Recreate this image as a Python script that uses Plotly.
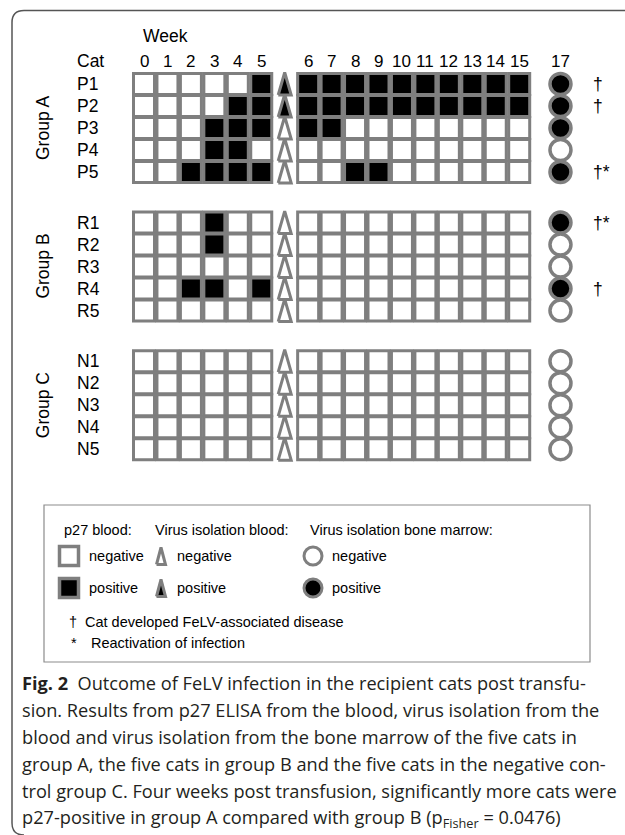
import plotly.graph_objects as go

# ---------------- data ----------------
week_labels = ["0", "1", "2", "3", "4", "5", "6", "7", "8", "9", "10", "11", "12", "13", "14", "15"]
p27_weeks = [0, 1, 2, 3, 4, 5, 6, 7, 8, 9, 10, 11, 12, 13, 14, 15]
marrow_week_label = "17"

group_names = ["Group A", "Group B", "Group C"]
cats_a = ["P1", "P2", "P3", "P4", "P5"]
cats_b = ["R1", "R2", "R3", "R4", "R5"]
cats_c = ["N1", "N2", "N3", "N4", "N5"]

# p27 ELISA in blood (1 = positive), weeks 0..15
p27_a = [
    [0, 0, 0, 0, 0, 1, 1, 1, 1, 1, 1, 1, 1, 1, 1, 1],
    [0, 0, 0, 0, 1, 1, 1, 1, 1, 1, 1, 1, 1, 1, 1, 1],
    [0, 0, 0, 1, 1, 1, 1, 1, 0, 0, 0, 0, 0, 0, 0, 0],
    [0, 0, 0, 1, 1, 0, 0, 0, 0, 0, 0, 0, 0, 0, 0, 0],
    [0, 0, 1, 1, 1, 1, 0, 0, 1, 1, 0, 0, 0, 0, 0, 0],
]
p27_b = [
    [0, 0, 0, 1, 0, 0, 0, 0, 0, 0, 0, 0, 0, 0, 0, 0],
    [0, 0, 0, 1, 0, 0, 0, 0, 0, 0, 0, 0, 0, 0, 0, 0],
    [0, 0, 0, 0, 0, 0, 0, 0, 0, 0, 0, 0, 0, 0, 0, 0],
    [0, 0, 1, 1, 0, 1, 0, 0, 0, 0, 0, 0, 0, 0, 0, 0],
    [0, 0, 0, 0, 0, 0, 0, 0, 0, 0, 0, 0, 0, 0, 0, 0],
]
p27_c = [
    [0, 0, 0, 0, 0, 0, 0, 0, 0, 0, 0, 0, 0, 0, 0, 0],
    [0, 0, 0, 0, 0, 0, 0, 0, 0, 0, 0, 0, 0, 0, 0, 0],
    [0, 0, 0, 0, 0, 0, 0, 0, 0, 0, 0, 0, 0, 0, 0, 0],
    [0, 0, 0, 0, 0, 0, 0, 0, 0, 0, 0, 0, 0, 0, 0, 0],
    [0, 0, 0, 0, 0, 0, 0, 0, 0, 0, 0, 0, 0, 0, 0, 0],
]
# virus isolation blood (1 = positive)
vi_blood_a = [1, 1, 0, 0, 0]
vi_blood_b = [0, 0, 0, 0, 0]
vi_blood_c = [0, 0, 0, 0, 0]
# virus isolation bone marrow, week 17 (1 = positive)
vi_marrow_a = [1, 1, 1, 0, 1]
vi_marrow_b = [1, 0, 0, 1, 0]
vi_marrow_c = [0, 0, 0, 0, 0]
# disease / reactivation notes
notes_a = ["†", "†", "", "", "†*"]
notes_b = ["†*", "", "", "†", ""]
notes_c = ["", "", "", "", ""]

caption_lines = [
    "<b>Fig. 2</b>\u00a0\u00a0Outcome of FeLV infection in the recipient cats post transfu-",
    "sion. Results from p27 ELISA from the blood, virus isolation from the",
    "blood and virus isolation from the bone marrow of the five cats in",
    "group A, the five cats in group B and the five cats in the negative con-",
    "trol group C. Four weeks post transfusion, significantly more cats were",
    "p27-positive in group A compared with group B (p<sub>Fisher</sub> = 0.0476)",
]

groups = [
    (group_names[0], cats_a, p27_a, vi_blood_a, vi_marrow_a, notes_a),
    (group_names[1], cats_b, p27_b, vi_blood_b, vi_marrow_b, notes_b),
    (group_names[2], cats_c, p27_c, vi_blood_c, vi_marrow_c, notes_c),
]

# ---------------- layout constants ----------------
W, H = 625, 835
X0, XS = 144.0, 23.45   # pixel of column 0, pixels per column
Y0, YS = 84.0, 22.0     # pixel of first row, pixels per row
GROUP_STEP = 6.3        # rows between group starts
TRI_COL = 6
MARROW_COL = 17.76
GRAY = "#7f7f7f"
LABEL_FONT = "Liberation Sans, Arial, sans-serif"
CAP_FONT = "Open Sans, sans-serif"


def dx(px):
    return (px - X0) / XS


def dy(py):
    return (py - Y0) / YS


def col_of_week(w):
    return w if w <= 5 else w + 1


def tri(cx, cy, hw_px, top_px, bot_px, xs, ys):
    hw = hw_px / XS
    t = top_px / YS
    b = bot_px / YS
    xs += [cx - hw, cx + hw, cx, cx - hw, None]
    ys += [cy + b, cy + b, cy - t, cy + b, None]


sq_x, sq_y, sq_c = [], [], []
tri_neg_x, tri_neg_y, tri_pos_x, tri_pos_y = [], [], [], []
ci_x, ci_y, ci_c = [], [], []
annotations = []


def text(x, y, s, size, anchor="left", angle=0, font=LABEL_FONT, color="black"):
    annotations.append(dict(x=x, y=y, xref="x", yref="y", text=s, showarrow=False,
                            xanchor=anchor, yanchor="middle", textangle=angle,
                            font=dict(family=font, size=size, color=color)))


for g, (gname, cats, p27, vib, vim, notes) in enumerate(groups):
    base = g * GROUP_STEP
    for r, cat in enumerate(cats):
        y = base + r
        for w, v in zip(p27_weeks, p27[r]):
            sq_x.append(col_of_week(w))
            sq_y.append(y)
            sq_c.append("black" if v else "white")
        if vib[r]:
            tri(TRI_COL, y, 6.5, 11.5, 11.0, tri_pos_x, tri_pos_y)
        else:
            tri(TRI_COL, y, 6.5, 11.5, 11.0, tri_neg_x, tri_neg_y)
        ci_x.append(MARROW_COL)
        ci_y.append(y)
        ci_c.append("black" if vim[r] else "white")
        text(dx(75), y, cat, 17.5)
        if notes[r]:
            text(dx(591), y, notes[r], 17.5)
    text(dx(43), base + 2, gname, 17.5, anchor="center", angle=-90)

# header
text(dx(141), dy(36), "Week", 17.5)
text(dx(75), dy(61), "Cat", 17.5)
for w, lab in zip(p27_weeks, week_labels):
    text(col_of_week(w), dy(61), lab, 17, anchor="center")
text(MARROW_COL, dy(61), marrow_week_label, 17, anchor="center")

# legend box content
LF = 14.5
text(dx(62), dy(530), "p27 blood:", LF)
text(dx(153), dy(530), "Virus isolation blood:", LF)
text(dx(308), dy(530), "Virus isolation bone marrow:", LF)
for py, word, fill in [(556, "negative", "white"), (588, "positive", "black")]:
    sq_x.append(dx(69)); sq_y.append(dy(py)); sq_c.append(fill)
    ci_x.append(dx(313)); ci_y.append(dy(py)); ci_c.append(fill)
    if fill == "white":
        tri(dx(161), dy(py), 4.5, 8.5, 8.5, tri_neg_x, tri_neg_y)
    else:
        tri(dx(161), dy(py), 4.5, 8.5, 8.5, tri_pos_x, tri_pos_y)
    text(dx(87), dy(py), word, LF)
    text(dx(175), dy(py), word, LF)
    text(dx(330), dy(py), word, LF)
text(dx(67), dy(622), "†", LF)
text(dx(83), dy(622), "Cat developed FeLV-associated disease", LF)
text(dx(69), dy(643), "*", LF)
text(dx(89), dy(643), "Reactivation of infection", LF)

# caption
for i, line in enumerate(caption_lines):
    text(dx(20), dy(683 + 27 * i), line, 18.2, font=CAP_FONT, color="#231f20")

fig = go.Figure()
n_grid = len(sq_x) - 2
fig.add_trace(go.Scatter(x=sq_x[:n_grid], y=sq_y[:n_grid], mode="markers", hoverinfo="skip",
                         marker=dict(symbol="square", size=21, color=sq_c[:n_grid],
                                     line=dict(color=GRAY, width=3))))
fig.add_trace(go.Scatter(x=sq_x[n_grid:], y=sq_y[n_grid:], mode="markers", hoverinfo="skip",
                         marker=dict(symbol="square", size=19, color=sq_c[n_grid:],
                                     line=dict(color=GRAY, width=3.5))))
fig.add_trace(go.Scatter(x=tri_neg_x, y=tri_neg_y, mode="lines", fill="toself",
                         fillcolor="white", line=dict(color=GRAY, width=3), hoverinfo="skip"))
fig.add_trace(go.Scatter(x=tri_pos_x, y=tri_pos_y, mode="lines", fill="toself",
                         fillcolor="black", line=dict(color=GRAY, width=3), hoverinfo="skip"))
n_ci = len(ci_x) - 2
fig.add_trace(go.Scatter(x=ci_x[:n_ci], y=ci_y[:n_ci], mode="markers", hoverinfo="skip",
                         marker=dict(symbol="circle", size=21, color=ci_c[:n_ci],
                                     line=dict(color=GRAY, width=3.5))))
fig.add_trace(go.Scatter(x=ci_x[n_ci:], y=ci_y[n_ci:], mode="markers", hoverinfo="skip",
                         marker=dict(symbol="circle", size=18, color=ci_c[n_ci:],
                                     line=dict(color=GRAY, width=3))))


def px(p):
    return p / W


def py(p):
    return 1 - p / H


frame = (f"M {px(640)},{py(10.5)} L {px(24)},{py(10.5)} Q {px(12)},{py(10.5)} {px(12)},{py(22.5)} "
         f"L {px(12)},{py(823)} Q {px(12)},{py(835)} {px(24)},{py(835)}")
shapes = [
    dict(type="path", xref="paper", yref="paper", path=frame, line=dict(color="#555555", width=1.5)),
    dict(type="rect", xref="paper", yref="paper", x0=px(44), x1=px(590), y0=py(505), y1=py(662),
         line=dict(color="#8c8c8c", width=1.2)),
]

fig.update_layout(
    width=W, height=H, margin=dict(l=0, r=0, t=0, b=0),
    paper_bgcolor="white", plot_bgcolor="white", showlegend=False,
    xaxis=dict(range=[dx(0), dx(W)], visible=False, fixedrange=True),
    yaxis=dict(range=[dy(H), dy(0)], visible=False, fixedrange=True),
    annotations=annotations, shapes=shapes,
)

fig.write_html("out.html", config={"displayModeBar": False},
               post_script="document.body.style.margin='0';document.body.style.overflow='hidden';")
